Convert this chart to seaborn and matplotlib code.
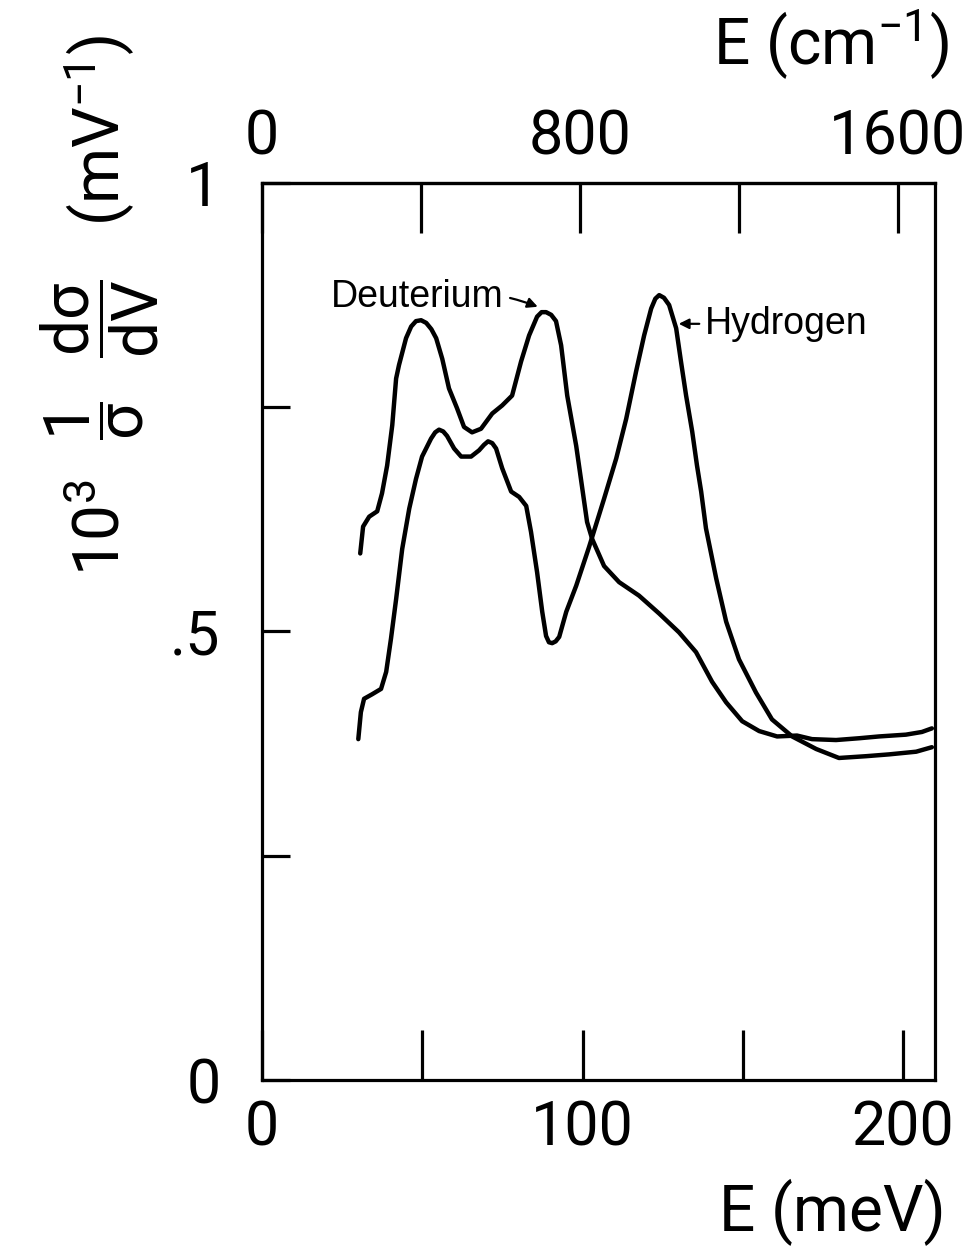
import numpy as np
import pandas as pd
import matplotlib
matplotlib.use("Agg")
import matplotlib.pyplot as plt
from matplotlib import font_manager
import seaborn as sns

# ---- data ----
deut_E = [30.6, 31.5, 33.4, 35.9, 37.4, 39.0, 40.6, 41.8, 42.7, 44.9, 46.5, 48.0, 49.6, 51.2, 52.8, 54.3, 56.2,
          58.3, 60.8, 63.0, 65.5, 68.3, 71.8, 74.9, 78.0, 80.8, 83.3, 85.8, 87.2, 88.6, 90.2, 91.7, 93.3,
          95.2, 98.0, 99.8, 101.4, 103.0, 106.7, 111.4, 117.6, 123.9, 130.1, 135.4, 140.4,
          144.8, 149.8, 155.1, 160.7, 166.9, 171.6, 179.1, 186.3, 192.5, 200.9, 205.9, 209.0]
deut_I = [0.587, 0.617, 0.628, 0.634, 0.654, 0.685, 0.730, 0.782, 0.797, 0.827, 0.840, 0.846, 0.847, 0.844,
          0.837, 0.827, 0.804, 0.771, 0.749, 0.728, 0.722, 0.726, 0.743, 0.752, 0.763, 0.801, 0.830,
          0.851, 0.856, 0.856, 0.853, 0.846, 0.819, 0.763, 0.707, 0.662, 0.622, 0.603, 0.573, 0.555, 0.540,
          0.520, 0.499, 0.477, 0.444, 0.421, 0.400, 0.389, 0.383, 0.384, 0.380, 0.379, 0.381,
          0.383, 0.385, 0.388, 0.392]

hyd_E = [30.0, 30.8, 31.8, 34.3, 37.1, 38.7, 40.2, 41.8, 43.7, 45.9, 48.0, 49.9, 52.7, 54.0, 55.2, 56.5,
         57.7, 59.9, 62.1, 65.2, 67.7, 69.2, 70.5, 71.8, 73.0, 74.9, 77.7, 80.2, 82.4, 83.9, 85.8, 87.4,
         88.6, 89.5, 90.5, 91.6, 92.7, 94.9, 98.0, 102.0, 106.7, 110.5, 113.6, 116.7, 119.2, 121.4, 122.7,
         123.9, 125.4, 127.0, 129.2, 130.7, 132.3, 134.2, 135.7, 137.0, 138.5, 141.7, 144.8, 148.8, 154.1,
         159.1, 165.4, 172.9, 180.0, 188.5, 195.6, 204.1, 209.0]
hyd_I = [0.380, 0.410, 0.425, 0.430, 0.436, 0.455, 0.492, 0.536, 0.592, 0.637, 0.670, 0.695,
         0.715, 0.722, 0.725, 0.723, 0.718, 0.704, 0.695, 0.695, 0.702, 0.708, 0.712, 0.710, 0.704, 0.682,
         0.656, 0.650, 0.640, 0.611, 0.566, 0.522, 0.495, 0.488, 0.487, 0.489, 0.494, 0.522, 0.551, 0.594,
         0.648, 0.693, 0.737, 0.790, 0.830, 0.860, 0.871, 0.875, 0.872, 0.864, 0.838, 0.801, 0.763, 0.723,
         0.685, 0.656, 0.615, 0.559, 0.511, 0.469, 0.432, 0.402, 0.383, 0.369, 0.359, 0.361, 0.363, 0.366,
         0.371]

x_ticks = [0, 50, 100, 150, 200]
x_ticklabels = ["0", "", "100", "", "200"]
top_ticks = [0, 400, 800, 1200, 1600]
top_ticklabels = ["0", "", "800", "", "1600"]
y_ticks = [0, 0.25, 0.5, 0.75, 1.0]
y_ticklabels = ["0", "", ".5", "", "1"]
MEV_TO_CM = 8.0655

sns.set_theme(style="white")
names = {f.name for f in font_manager.fontManager.ttflist}
narrow = "Liberation Sans Narrow" if "Liberation Sans Narrow" in names else "Roboto"
plt.rcParams["font.family"] = [narrow, "DejaVu Sans"]
plt.rcParams["text.color"] = "black"
plt.rcParams["axes.labelcolor"] = "black"
plt.rcParams["xtick.color"] = "black"
plt.rcParams["ytick.color"] = "black"
plt.rcParams["mathtext.fontset"] = "custom"
plt.rcParams["mathtext.rm"] = narrow
plt.rcParams["mathtext.it"] = narrow
plt.rcParams["mathtext.default"] = "regular"

fig = plt.figure(figsize=(9.71, 12.49), dpi=100)
ax = fig.add_axes([0.270, 0.1353, 0.693, 0.7182])

df_d = pd.DataFrame({"E": deut_E, "I": deut_I})
df_h = pd.DataFrame({"E": hyd_E, "I": hyd_I})
sns.lineplot(data=df_d, x="E", y="I", sort=False, estimator=None, color="black", lw=3.2, ax=ax)
sns.lineplot(data=df_h, x="E", y="I", sort=False, estimator=None, color="black", lw=3.2, ax=ax)
for ln in ax.lines:
    ln.set_solid_joinstyle("round")
    ln.set_solid_capstyle("round")

ax.set_xlim(0, 210)
ax.set_ylim(0, 1)
ax.set_xlabel("")
ax.set_ylabel("")

for s in ax.spines.values():
    s.set_color("black")
    s.set_linewidth(2.3)

tick_font = dict(fontsize=44)
ax.set_xticks(x_ticks)
ax.set_xticklabels(x_ticklabels, **tick_font)
ax.set_yticks(y_ticks)
ax.set_yticklabels(y_ticklabels, **tick_font)
ax.tick_params(axis="x", direction="in", length=36, width=2.3, pad=14, colors="black",
               bottom=True, top=False)
ax.tick_params(axis="y", direction="in", length=20, width=2.3, pad=30, colors="black",
               left=True, right=False)

sec = ax.secondary_xaxis("top", functions=(lambda e: e * MEV_TO_CM, lambda c: c / MEV_TO_CM))
sec.set_xticks(top_ticks)
sec.set_xticklabels(top_ticklabels, **tick_font)
sec.tick_params(axis="x", direction="in", length=36, width=2.3, pad=12, colors="black")
sec.spines["top"].set_linewidth(2.3)

# annotations
ax.annotate("Deuterium", xy=(86.0, 0.862), xytext=(75.5, 0.873),
            ha="right", va="center", fontsize=27, family="Liberation Sans",
            arrowprops=dict(arrowstyle="-|>", color="black", lw=1.6,
                            connectionstyle="arc3,rad=-0.15", mutation_scale=15,
                            shrinkA=2, shrinkB=0))
ax.annotate("Hydrogen", xy=(130.0, 0.843), xytext=(138.3, 0.843),
            ha="left", va="center", fontsize=27, family="Liberation Sans",
            arrowprops=dict(arrowstyle="-|>", color="black", lw=1.6, mutation_scale=15,
                            shrinkA=2, shrinkB=0))

# axis titles
fig.text(946 / 971, 1 - 1212 / 1249, "E (meV)", ha="right", va="center", fontsize=46)
fig.text(949 / 971, 1 - 45 / 1249, "E (cm$^{-1}$)", ha="right", va="center", fontsize=46)
fig.text(100 / 971, 1 - 305 / 1249,
         r"$10^3\ \ \dfrac{1}{\sigma}\ \ \dfrac{d\sigma}{dV}$   (mV$^{-1}$)",
         rotation=90, ha="center", va="center", fontsize=46)

fig.savefig("out.png", dpi=100, facecolor="white")
